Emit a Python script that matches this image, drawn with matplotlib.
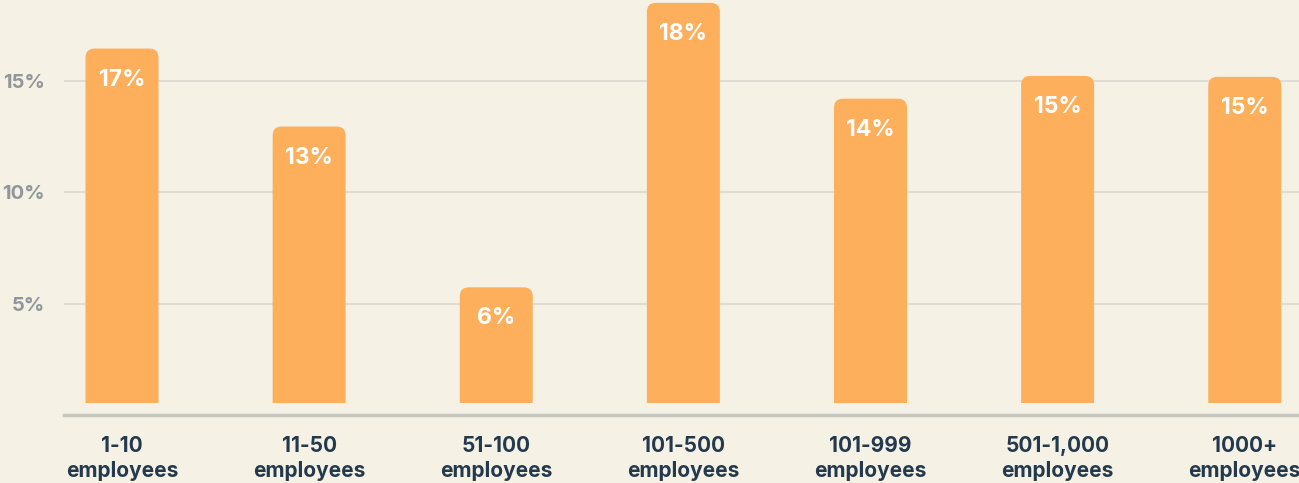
import matplotlib
matplotlib.use("Agg")
import matplotlib.pyplot as plt
from matplotlib.patches import FancyBboxPatch, Rectangle
import numpy as np

categories = ["1-10\nemployees", "11-50\nemployees", "51-100\nemployees", "101-500\nemployees",
              "101-999\nemployees", "501-1,000\nemployees", "1000+\nemployees"]
values = [16.45, 12.95, 5.73, 18.5, 14.2, 15.22, 15.18]
value_labels = ["17%", "13%", "6%", "18%", "14%", "15%", "15%"]
yticks = [5, 10, 15]
ytick_labels = ["5%", "10%", "15%"]

BG = "#F5F1E4"
BAR = "#FDAF5B"
FONT = "Inter"

W, H = 1299, 483
fig = plt.figure(figsize=(W / 100, H / 100), dpi=100, facecolor=BG)
ax = fig.add_axes([64 / W, (H - 415) / H, (W - 64) / W, 415 / H])
ax.set_facecolor(BG)

ax.set_xlim(-0.31, 6.29)
ax.set_ylim(0, 18.63)

gap = 0.55
width = 0.39
x = np.arange(len(values))
bars = ax.bar(x, np.array(values) - gap, bottom=gap, width=width, color="none", zorder=0)

# rounded top corners
px_per_x = (W - 64) / 6.6
px_per_y = 415 / 18.63
r_px = 9
rx = r_px / px_per_x
aspect = (r_px / px_per_y) / rx
for b in bars:
    x0, y0 = b.get_x(), b.get_y()
    w, h = b.get_width(), b.get_height()
    clip = Rectangle((x0 - 0.1, y0), w + 0.2, h + 1, transform=ax.transData)
    p = FancyBboxPatch((x0, y0 - 2), w, h + 2,
                       boxstyle=f"round,pad=0,rounding_size={rx}",
                       mutation_aspect=aspect, fc=BAR, ec="none", lw=0, zorder=3)
    ax.add_patch(p)
    p.set_clip_path(clip)

for xi, v, lab in zip(x, values, value_labels):
    ax.annotate(lab, (xi, v), xytext=(0, -31), textcoords="offset pixels",
                ha="center", va="center", color="white", fontsize=16.5,
                fontweight="bold", family=FONT, zorder=5)

ax.set_yticks(yticks)
ax.set_yticklabels(ytick_labels, family=FONT, fontweight="bold", fontsize=14.5, color="#8F979A")
ax.yaxis.grid(True, color="#DEDCD3", linewidth=1.5, zorder=0)
ax.set_axisbelow(True)
ax.tick_params(axis="y", length=0, pad=14)

ax.set_xticks(x)
ax.set_xticklabels(categories, family=FONT, fontweight="bold", fontsize=15, color="#23394E",
                   linespacing=1.3)
ax.tick_params(axis="x", length=0, pad=15)

for s in ["top", "right", "left"]:
    ax.spines[s].set_visible(False)
ax.spines["bottom"].set_color("#C6C7C1")
ax.spines["bottom"].set_linewidth(2.5)

fig.savefig("out.png", dpi=100, facecolor=BG)
